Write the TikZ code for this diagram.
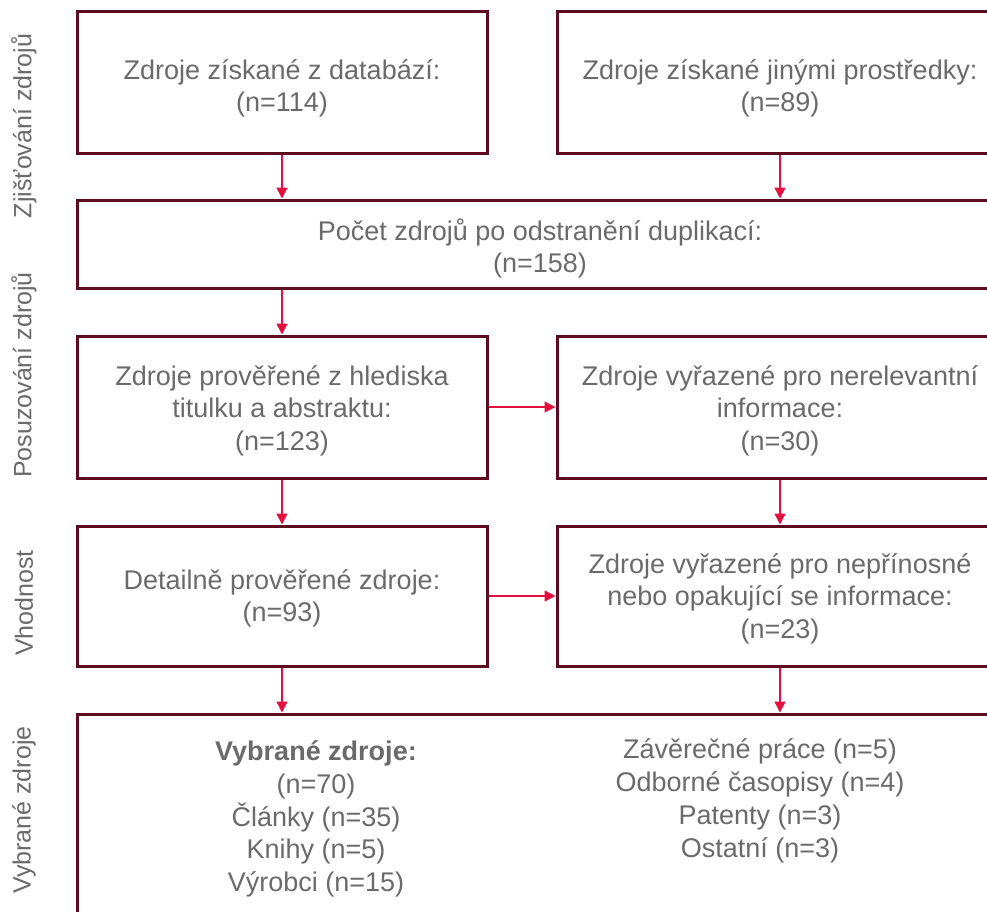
\documentclass[tikz,border=0pt]{standalone}
\usepackage{fontspec}
\setmainfont{Liberation Sans}
\usetikzlibrary{arrows.meta}
\definecolor{boxborder}{HTML}{5E0B1F}
\definecolor{arrowred}{HTML}{E3103D}
\definecolor{txtgray}{HTML}{6A6A6A}
\newcommand{\boxtext}[2][5pt]{\raisebox{-#1}[\height][\depth]{\begin{tabular}{@{}c@{}}#2\end{tabular}}}
\tikzset{
  box/.style={draw=boxborder, line width=3pt, rectangle, align=center, text=txtgray,
    font=\fontsize{27pt}{32.5pt}\selectfont, inner sep=0pt},
  inner/.style={align=center, text=txtgray, font=\fontsize{27pt}{32.8pt}\selectfont, inner sep=0pt},
  side/.style={rotate=90, text=txtgray, font=\fontsize{25pt}{30pt}\selectfont, inner sep=0pt},
  conn/.style={draw=arrowred, line width=1.4pt, -{Triangle[length=11pt,width=11pt]}}
}
\begin{document}
\begin{tikzpicture}[x=1pt,y=-1pt]
\useasboundingbox (0,0) rectangle (987,911);
\clip (0,0) rectangle (987,911);
% boxes
\node[box, minimum width=410pt, minimum height=142pt] (A) at (282,82) {\boxtext[7pt]{Zdroje získané z databází:\\(n=114)}};
\node[box, minimum width=446pt, minimum height=142pt] (B) at (780,82) {\boxtext[7pt]{Zdroje získané jinými prostředky:\\(n=89)}};
\node[box, minimum width=926pt, minimum height=88pt] (C) at (540,244) {\boxtext[6pt]{Počet zdrojů po odstranění duplikací:\\(n=158)}};
\node[box, minimum width=410pt, minimum height=142pt] (D) at (282,407) {\boxtext[4pt]{Zdroje prověřené z hlediska\\titulku a abstraktu:\\(n=123)}};
\node[box, minimum width=446pt, minimum height=142pt] (E) at (780,407) {\boxtext[4pt]{Zdroje vyřazené pro nerelevantní\\informace:\\(n=30)}};
\node[box, minimum width=410pt, minimum height=140pt] (F) at (282,596) {\boxtext[3pt]{Detailně prověřené zdroje:\\(n=93)}};
\node[box, minimum width=446pt, minimum height=140pt] (G) at (780,596) {\boxtext[3pt]{Zdroje vyřazené pro nepřínosné\\nebo opakující se informace:\\(n=23)}};
\node[draw=boxborder, line width=3pt, rectangle, inner sep=0pt, minimum width=926pt, minimum height=260pt] (H) at (540,844) {};
\node[inner] (Hl) at (316,819) {\textbf{Vybrané zdroje:}\\(n=70)\\Články (n=35)\\Knihy (n=5)\\Výrobci (n=15)};
\node[inner] (Hr) at (760,801) {Závěrečné práce (n=5)\\Odborné časopisy (n=4)\\Patenty (n=3)\\Ostatní (n=3)};
% side labels
\node[side] (s1) at (24,126) {Zjišťování zdrojů};
\node[side] (s2) at (24,375) {Posuzování zdrojů};
\node[side] (s3) at (24,603) {Vhodnost};
\node[side] (s4) at (24,810) {Vybrané zdroje};
% connectors
\draw[conn] (A.south) -- (A.south |- C.north);
\draw[conn] (B.south) -- (B.south |- C.north);
\draw[conn] (D.north |- C.south) -- (D.north);
\draw[conn] (D.east) -- (E.west);
\draw[conn] (D.south) -- (F.north);
\draw[conn] (E.south) -- (G.north);
\draw[conn] (F.east) -- (G.west);
\draw[conn] (F.south) -- (F.south |- H.north);
\draw[conn] (G.south) -- (G.south |- H.north);
\end{tikzpicture}
\end{document}
